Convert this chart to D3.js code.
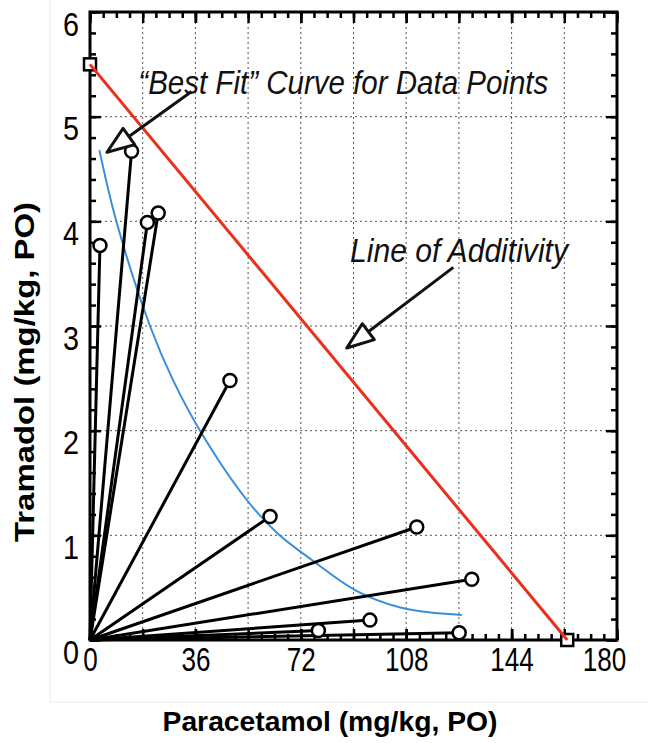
<!DOCTYPE html>
<html>
<head>
<meta charset="utf-8">
<script src="https://cdn.jsdelivr.net/npm/d3@7"></script>
<style>
  body { margin: 0; background: #fff; }
  svg { display: block; }
</style>
</head>
<body>
<div id="chart"></div>
<script>
// ---- data ----
var xTicks = [0, 36, 72, 108, 144, 180];
var yTicks = [0, 1, 2, 3, 4, 5, 6];
var xGrid = [18, 36, 54, 72, 90, 108, 126, 144, 162];
var yGrid = [1, 2, 3, 4, 5];

// tramadol + paracetamol combinations (end of each ray from the origin)
var comboPara = [3.4, 14.2, 19.6, 23.3, 47.8, 61.5, 111.6, 130.4, 95.6, 126.1, 78];
var comboTram = [3.77, 4.67, 3.99, 4.08, 2.48, 1.18, 1.08, 0.58, 0.19, 0.07, 0.09];

// "best fit" isobologram curve
var fitPara = [3.2, 9, 20.5, 28.4, 38, 53.5, 64, 76, 91, 106, 117, 127];
var fitTram = [4.68, 4.0, 3.0, 2.48, 1.98, 1.34, 1.02, 0.76, 0.47, 0.31, 0.26, 0.24];

// line of additivity: ED50 of each drug alone
var additivePara = [0, 163];
var additiveTram = [5.5, 0];

var noteFit = "\u201CBest  Fit\u201D Curve for Data Points";
var noteAdd = "Line  of Additivity";

// ---- layout ----
var W = 648, H = 743;
var pLeft = 90, pRight = 617, pTop = 12, pBottom = 640;

var svg = d3.select("#chart").append("svg")
    .attr("width", W)
    .attr("height", H);

var x = d3.scaleLinear().domain([0, 180]).range([pLeft, pRight]);
var y = d3.scaleLinear().domain([0, 6]).range([pBottom, pTop]);

// faint edge of the pasted picture
svg.append("path")
    .attr("d", "M50,0 V702 H648")
    .attr("fill", "none")
    .attr("stroke", "#ececec")
    .attr("stroke-width", 1);

// dotted grid
svg.selectAll(".vgrid")
    .data(xGrid)
    .enter().append("line")
    .attr("class", "vgrid")
    .attr("x1", d => x(d)).attr("x2", d => x(d))
    .attr("y1", y(6)).attr("y2", y(0))
    .attr("stroke", "#555")
    .attr("stroke-width", 1)
    .attr("stroke-dasharray", "2,3");
svg.selectAll(".hgrid")
    .data(yGrid)
    .enter().append("line")
    .attr("class", "hgrid")
    .attr("x1", x(0)).attr("x2", x(180))
    .attr("y1", d => y(d)).attr("y2", d => y(d))
    .attr("stroke", "#555")
    .attr("stroke-width", 1)
    .attr("stroke-dasharray", "2,3");

// inward ticks on all four sides (minor + major)
var xMinor = d3.range(0, 180.1, 4.5);
var yMinor = d3.range(0, 6.01, 0.2);

function tickAxis(axisFn, scale, pos, vals, len, withLabels) {
    var a = axisFn(scale).tickValues(vals).tickSize(-len).tickPadding(withLabels ? 10 : 0);
    if (!withLabels) a.tickFormat("");
    else a.tickFormat(d3.format("d"));
    var g = svg.append("g").attr("transform", pos).call(a);
    g.select(".domain").remove();
    g.selectAll(".tick line").attr("stroke", "#000").attr("stroke-width", 2.5);
    return g;
}
tickAxis(d3.axisBottom, x, "translate(0," + pBottom + ")", xMinor, 6, false);
tickAxis(d3.axisTop, x, "translate(0," + pTop + ")", xMinor, 6, false);
tickAxis(d3.axisLeft, y, "translate(" + pLeft + ",0)", yMinor, 6, false);
tickAxis(d3.axisRight, y, "translate(" + pRight + ",0)", yMinor, 6, false);
tickAxis(d3.axisTop, x, "translate(0," + pTop + ")", xTicks.concat(xGrid), 11, false);
tickAxis(d3.axisRight, y, "translate(" + pRight + ",0)", yTicks, 11, false);
tickAxis(d3.axisBottom, x, "translate(0," + pBottom + ")", xGrid, 11, false);

var gxl = tickAxis(d3.axisBottom, x, "translate(0," + pBottom + ")", xTicks, 11, true);
var gyl = tickAxis(d3.axisLeft, y, "translate(" + pLeft + ",0)", yTicks, 11, true);

// tall, narrow digits as in the scanned figure
gxl.selectAll("text")
    .attr("fill", "#000")
    .style("font-family", "'Liberation Sans', Arial, sans-serif")
    .style("font-size", "34px")
    .attr("textLength", d => String(d).length * 14.5)
    .attr("lengthAdjust", "spacingAndGlyphs")
    .attr("dy", "0.62em");
gxl.selectAll(".tick").filter(d => d == 180).select("text").attr("dx", -13);

gyl.selectAll("text")
    .attr("fill", "#000")
    .style("font-family", "'Liberation Sans', Arial, sans-serif")
    .style("font-size", "34px")
    .attr("textLength", 16)
    .attr("lengthAdjust", "spacingAndGlyphs")
    .attr("dy", "0.68em")
    .attr("x", -11);

// frame
svg.append("rect")
    .attr("x", pLeft).attr("y", pTop)
    .attr("width", pRight - pLeft).attr("height", pBottom - pTop)
    .attr("fill", "none")
    .attr("stroke", "#000")
    .attr("stroke-width", 3);

// best fit curve
var fit = fitPara.map((p, i) => [p, fitTram[i]]);
svg.append("path")
    .datum(fit)
    .attr("d", d3.line().x(d => x(d[0])).y(d => y(d[1])).curve(d3.curveCatmullRom))
    .attr("fill", "none")
    .attr("stroke", "#3a8fdc")
    .attr("stroke-width", 2);

// rays from origin to each combination
var combos = comboPara.map((p, i) => ({para: p, tram: comboTram[i]}));
svg.selectAll(".ray")
    .data(combos)
    .enter().append("line")
    .attr("class", "ray")
    .attr("x1", x(0)).attr("y1", y(0))
    .attr("x2", d => x(d.para)).attr("y2", d => y(d.tram))
    .attr("stroke", "#000")
    .attr("stroke-width", 3);
svg.selectAll(".combo")
    .data(combos)
    .enter().append("circle")
    .attr("class", "combo")
    .attr("cx", d => x(d.para)).attr("cy", d => y(d.tram))
    .attr("r", 6.5)
    .attr("fill", "#fff")
    .attr("stroke", "#000")
    .attr("stroke-width", 2.5);

// line of additivity with its two end squares
var additive = additivePara.map((p, i) => [p, additiveTram[i]]);
svg.selectAll(".ed50")
    .data(additive)
    .enter().append("rect")
    .attr("class", "ed50")
    .attr("x", d => x(d[0]) - 6).attr("y", d => y(d[1]) - 6)
    .attr("width", 12).attr("height", 12)
    .attr("fill", "#fff")
    .attr("stroke", "#000")
    .attr("stroke-width", 2.5);
svg.append("path")
    .datum(additive)
    .attr("d", d3.line().x(d => x(d[0])).y(d => y(d[1])))
    .attr("stroke", "#e8301c")
    .attr("stroke-width", 3);

// annotations
function arrow(x0, y0, x1, y1) {
    var dx = x1 - x0, dy = y1 - y0, L = Math.sqrt(dx * dx + dy * dy);
    var ux = dx / L, uy = dy / L, hl = 27, hw = 10;
    var bx = x1 - ux * hl, by = y1 - uy * hl;
    svg.append("line")
        .attr("x1", x0).attr("y1", y0).attr("x2", bx).attr("y2", by)
        .attr("stroke", "#111").attr("stroke-width", 3);
    svg.append("path")
        .attr("d", "M" + x1 + "," + y1 +
            "L" + (bx - uy * hw) + "," + (by + ux * hw) +
            "L" + (bx + uy * hw) + "," + (by - ux * hw) + "Z")
        .attr("fill", "#fff")
        .attr("stroke", "#111")
        .attr("stroke-width", 3)
        .attr("stroke-linejoin", "round");
}
arrow(x(34.7), y(5.24), x(5.8), y(4.66));
arrow(x(124.1), y(3.56), x(87.7), y(2.79));

function note(txt, px, py, len) {
    svg.append("text")
        .attr("x", x(px)).attr("y", y(py))
        .attr("textLength", len)
        .attr("lengthAdjust", "spacingAndGlyphs")
        .style("font-family", "'Liberation Sans', Arial, sans-serif")
        .style("font-style", "italic")
        .style("font-size", "33px")
        .attr("fill", "#111")
        .text(txt);
}
note(noteFit, 16.5, 5.22, 410);
note(noteAdd, 88.8, 3.61, 218);

// axis titles
svg.append("text")
    .attr("x", 330).attr("y", 731)
    .attr("text-anchor", "middle")
    .attr("textLength", 335)
    .attr("lengthAdjust", "spacingAndGlyphs")
    .style("font-family", "'Liberation Sans', Arial, sans-serif")
    .style("font-weight", "bold")
    .style("font-size", "28px")
    .text("Paracetamol (mg/kg, PO)");
svg.append("text")
    .attr("transform", "translate(34," + 372 + ") rotate(-90)")
    .attr("text-anchor", "middle")
    .attr("textLength", 340)
    .attr("lengthAdjust", "spacingAndGlyphs")
    .style("font-family", "'Liberation Sans', Arial, sans-serif")
    .style("font-weight", "bold")
    .style("font-size", "27px")
    .text("Tramadol (mg/kg, PO)");
</script>
</body>
</html>
